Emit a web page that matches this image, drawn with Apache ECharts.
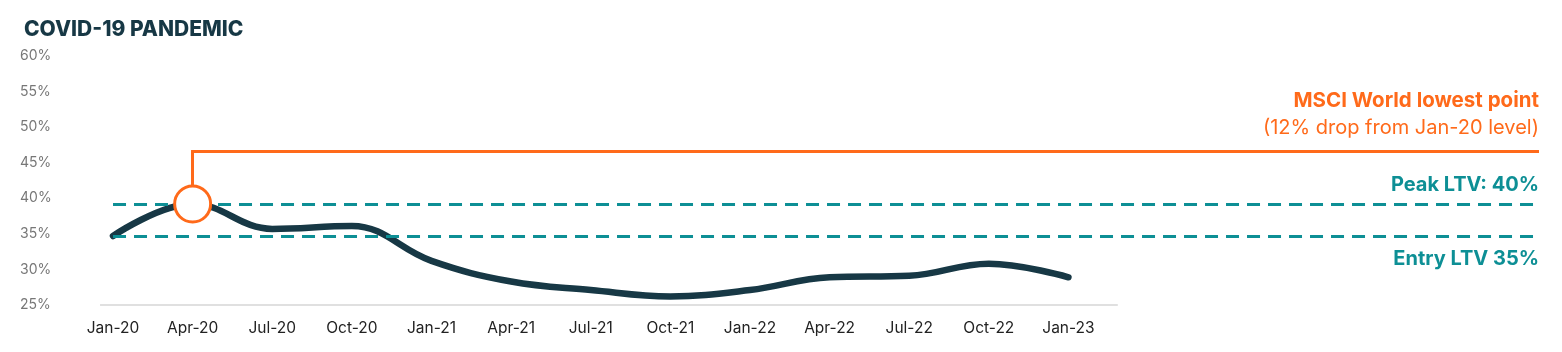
<!DOCTYPE html>
<html>
<head>
<meta charset="utf-8">
<script src="https://cdn.jsdelivr.net/npm/echarts@6/dist/echarts.min.js"></script>
<style>
  html, body { margin: 0; padding: 0; background: #fff; }
  #chart { width: 1562px; height: 352px; }
</style>
</head>
<body>
<div id="chart"></div>
<script>
// quarterly LTV during covid
const categories = ['Jan-20', 'Apr-20', 'Jul-20', 'Oct-20', 'Jan-21', 'Apr-21', 'Jul-21',
  'Oct-21', 'Jan-22', 'Apr-22', 'Jul-22', 'Oct-22', 'Jan-23'];
const ltv = [34.7, 39.2, 35.7, 36.1, 31.2, 28.3, 27.1, 26.2, 27.1, 28.9, 29.1, 30.8, 28.9];
const peakLtv = 39.1;
const entryLtv = 34.6;
const msciLevel = 46.6;
const peakIndex = 1;
const yMin = 25, yMax = 60, yStep = 5;

const navy = '#173845';
const orange = '#ff6a1a';
const teal = '#0d8f95';
const font = 'Inter, "Noto Sans", sans-serif';

const xMax = 17.91; // runs the grid to the right edge for the reference lines

const chart = echarts.init(document.getElementById('chart'));

const option = {
  animation: false,
  title: {
    text: 'COVID-19 PANDEMIC',
    left: 19,
    top: 14,
    textStyle: { fontFamily: font, fontWeight: 800, fontSize: 21, color: navy }
  },
  grid: { left: 33.4, right: 23, top: 56, bottom: 47 },
  xAxis: {
    type: 'value',
    min: -1,
    max: xMax,
    interval: 1,
    axisLine: { show: false },
    axisTick: { show: false },
    splitLine: { show: false },
    axisLabel: {
      margin: 15,
      fontFamily: font,
      fontSize: 15.5,
      color: '#222',
      showMaxLabel: false,
      formatter: v => categories[v] || ''
    }
  },
  yAxis: {
    type: 'value',
    min: yMin,
    max: yMax,
    interval: yStep,
    axisLine: { show: false },
    axisTick: { show: false },
    splitLine: { show: false },
    axisLabel: {
      align: 'left',
      margin: 13.4,
      fontFamily: font,
      fontSize: 14,
      color: '#777',
      formatter: v => v + '%'
    }
  },
  series: [
    {
      // baseline + LTV reference lines
      type: 'line',
      data: [],
      silent: true,
      markLine: {
        symbol: 'none',
        silent: true,
        data: [
          [{ coord: [-0.163, yMin], lineStyle: { color: '#e0e0e0', width: 2, type: 'solid' }, label: { show: false } },
           { coord: [12.62, yMin] }],
          [{ coord: [0, peakLtv], lineStyle: { color: teal, width: 3, type: [13, 8] },
             label: { show: true, position: 'insideEndTop', distance: [0, 10], formatter: 'Peak LTV: 40%',
               fontFamily: font, fontWeight: 700, fontSize: 20, color: teal } },
           { coord: [xMax, peakLtv] }],
          [{ coord: [0, entryLtv], lineStyle: { color: teal, width: 3, type: [13, 8] },
             label: { show: true, position: 'insideEndBottom', distance: [0, 12], formatter: 'Entry LTV 35%',
               fontFamily: font, fontWeight: 700, fontSize: 20, color: teal } },
           { coord: [xMax, entryLtv] }]
        ]
      }
    },
    {
      name: 'LTV',
      type: 'line',
      data: ltv.map((v, i) => [i, v]),
      smooth: 0.4,
      symbol: 'none',
      z: 3,
      lineStyle: { color: navy, width: 6.5, cap: 'round' }
    },
    {
      // MSCI lowest point callout
      type: 'line',
      data: [],
      z: 5,
      markLine: {
        symbol: 'none',
        silent: true,
        lineStyle: { color: orange, width: 3, type: 'solid' },
        data: [
          [{ coord: [peakIndex, msciLevel], label: { show: false } }, { coord: [peakIndex, ltv[peakIndex]] }],
          [{ coord: [peakIndex - 0.02, msciLevel],
             label: {
               show: true, position: 'insideEndTop', distance: [0, 10],
               formatter: '{b|MSCI World lowest point}\n{n|(12% drop from Jan-20 level)}',
               align: 'right',
               rich: {
                 b: { fontFamily: font, fontWeight: 700, fontSize: 20.5, color: orange, lineHeight: 27, align: 'right' },
                 n: { fontFamily: font, fontWeight: 400, fontSize: 20, color: orange, lineHeight: 27, align: 'right' }
               }
             } },
           { coord: [xMax, msciLevel] }]
        ]
      },
      markPoint: {
        silent: true,
        symbol: 'circle',
        symbolSize: 36,
        itemStyle: { color: '#fff', borderColor: orange, borderWidth: 3 },
        label: { show: false },
        data: [{ coord: [peakIndex, ltv[peakIndex]] }]
      }
    }
  ]
};

chart.setOption(option);
</script>
</body>
</html>
